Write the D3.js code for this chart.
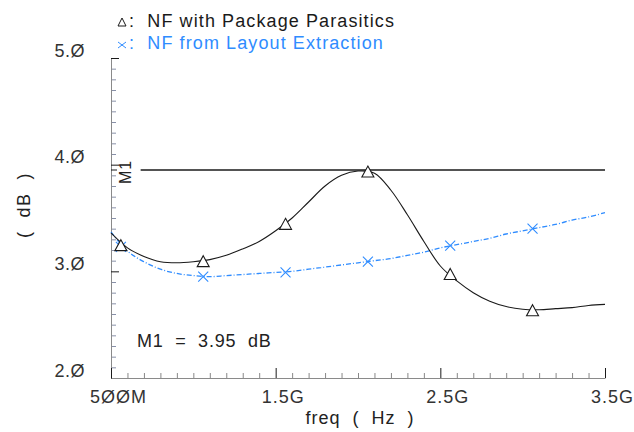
<!DOCTYPE html>
<html>
<head>
<meta charset="utf-8">
<script src="https://cdn.jsdelivr.net/npm/d3@7"></script>
<style>
  body { margin: 0; background: #fff; }
  svg { font-family: "Liberation Sans", Arial, sans-serif; }
</style>
</head>
<body>
<svg id="chart"></svg>
<script>
// frecuencias en GHz y valores (dB)
const freqGHz = [0.5, 0.6, 0.7, 0.8, 0.9, 1.0, 1.1, 1.2, 1.3, 1.4, 1.5, 1.6, 1.7, 1.8, 1.9, 2.0,
                 2.1, 2.2, 2.3, 2.4, 2.5, 2.6, 2.7, 2.8, 2.9, 3.0, 3.1, 3.2, 3.3, 3.4, 3.5];
const nfPackage = [3.36, 3.22, 3.14, 3.09, 3.08, 3.09, 3.11, 3.15, 3.21, 3.28, 3.38, 3.50, 3.65, 3.80, 3.90, 3.94,
                   3.92, 3.76, 3.53, 3.28, 3.05, 2.91, 2.80, 2.72, 2.67, 2.645, 2.64, 2.65, 2.66, 2.68, 2.69];
const nfLayout = [3.37, 3.19, 3.09, 3.02, 2.98, 2.96, 2.95, 2.96, 2.97, 2.98, 2.99, 3.00, 3.02, 3.04, 3.06, 3.08,
                  3.10, 3.12, 3.15, 3.18, 3.22, 3.25, 3.28, 3.31, 3.35, 3.38, 3.41, 3.44, 3.48, 3.51, 3.55];

// marcadores
const markerFreq = [0.56, 1.06, 1.56, 2.06, 2.56, 3.06];
const nfPackageMarks = [3.25, 3.10, 3.45, 3.94, 2.98, 2.64];
const nfLayoutMarks = [3.23, 2.95, 2.99, 3.09, 3.24, 3.40];

const xTicks = [0.5, 1.5, 2.5, 3.5];
const xTickLabels = ["5ØØM", "1.5G", "2.5G", "3.5G"];
const yTicks = [2, 3, 4, 5];
const m1Value = 3.95;
const legendLabels = ["NF with Package Parasitics", "NF from Layout Extraction"];

const width = 634;
const height = 432;
const margin = { left: 111, right: 29, top: 58, bottom: 54 };

const black = "#1a1a1a";
const blue = "#2f8cff";
const axisGray = "#8a8a8a";

const svg = d3.select("#chart")
              .attr("width", width)
              .attr("height", height);

const x = d3.scaleLinear()
            .domain([0.5, 3.5])
            .range([margin.left, width - margin.right]);

const y = d3.scaleLinear()
            .domain([2, 5])
            .range([height - margin.bottom, margin.top]);

// ticks menores (cada 0.1)
const minorY = d3.range(21, 50).map(d => d / 10).filter(d => !yTicks.includes(d));
const minorX = d3.range(6, 35).map(d => d / 10).filter(d => !xTicks.includes(d));

// eje Y
svg.append("g")
   .attr("transform", `translate(${margin.left},0)`)
   .call(d3.axisLeft(y).tickValues(minorY).tickSize(-5).tickFormat(""))
   .call(g => g.select(".domain").remove())
   .call(g => g.selectAll(".tick line").attr("stroke", "#8890a8"));

svg.append("g")
   .attr("transform", `translate(${margin.left},0)`)
   .call(d3.axisLeft(y).tickValues(yTicks).tickSizeInner(-8).tickSizeOuter(0)
           .tickFormat(d => d3.format(".1f")(d).replace(/0/g, "Ø")))
   .call(g => g.select(".domain").attr("stroke", axisGray))
   .call(g => g.selectAll(".tick line").attr("stroke", black))
   .call(g => g.selectAll(".tick text")
               .attr("x", -26)
               .attr("dy", "-0.1em")
               .attr("font-size", 18)
               .attr("letter-spacing", 0.5)
               .attr("fill", "#333"));

// eje X
svg.append("g")
   .attr("transform", `translate(0,${height - margin.bottom})`)
   .call(d3.axisBottom(x).tickValues(minorX).tickSize(-5).tickFormat(""))
   .call(g => g.select(".domain").remove())
   .call(g => g.selectAll(".tick line").attr("stroke", "#888"));

svg.append("g")
   .attr("transform", `translate(0,${height - margin.bottom})`)
   .call(d3.axisBottom(x).tickValues(xTicks).tickSizeInner(-10).tickSizeOuter(0)
           .tickFormat((d, i) => xTickLabels[i]))
   .call(g => g.select(".domain").attr("stroke", axisGray))
   .call(g => g.selectAll(".tick text")
               .attr("y", 12)
               .attr("dx", 7)
               .attr("font-size", 18)
               .attr("letter-spacing", 1)
               .attr("fill", "#333"))
   .call(g => g.selectAll(".tick line").attr("stroke", black));

// titulos de ejes
svg.append("text")
   .attr("x", x(2.0) + 2)
   .attr("y", 424)
   .attr("text-anchor", "middle")
   .attr("font-size", 18)
   .attr("letter-spacing", 1)
   .attr("fill", "#222")
   .attr("xml:space", "preserve")
   .text("freq  (  Hz  )");

svg.append("text")
   .attr("transform", "translate(30,205) rotate(-90)")
   .attr("text-anchor", "middle")
   .attr("font-size", 18)
   .attr("letter-spacing", 1.5)
   .attr("fill", "#222")
   .attr("xml:space", "preserve")
   .text("(  dB  )");

// linea del marcador M1
svg.append("line")
   .attr("x1", x(0.68))
   .attr("x2", x(3.5))
   .attr("y1", y(m1Value))
   .attr("y2", y(m1Value))
   .attr("stroke", black)
   .attr("stroke-width", 1.5);

svg.append("line")
   .attr("x1", margin.left)
   .attr("x2", margin.left + 6)
   .attr("y1", y(m1Value))
   .attr("y2", y(m1Value))
   .attr("stroke", black);

svg.append("text")
   .attr("transform", `translate(${x(0.62)},${y(m1Value) + 2}) rotate(-90)`)
   .attr("text-anchor", "middle")
   .attr("font-size", 16)
   .attr("letter-spacing", 1)
   .attr("fill", "#222")
   .text("M1");

svg.append("text")
   .attr("x", 137)
   .attr("y", 347)
   .attr("font-size", 18)
   .attr("letter-spacing", 0.8)
   .attr("fill", "#222")
   .attr("xml:space", "preserve")
   .text("M1  =  3.95  dB");

// curvas
const line = d3.line()
               .x((d, i) => x(freqGHz[i]))
               .y(d => y(d))
               .curve(d3.curveCatmullRom);

svg.append("path")
   .datum(nfLayout)
   .attr("d", line)
   .attr("fill", "none")
   .attr("stroke", blue)
   .attr("stroke-width", 1.3)
   .attr("stroke-dasharray", "5,2,1,2");

svg.append("path")
   .datum(nfPackage)
   .attr("d", line)
   .attr("fill", "none")
   .attr("stroke", black)
   .attr("stroke-width", 1.1);

// marcadores x azules
svg.selectAll(".xmark")
   .data(nfLayoutMarks)
   .enter()
   .append("path")
   .attr("class", "xmark")
   .attr("transform", (d, i) => `translate(${x(markerFreq[i])},${y(d)})`)
   .attr("d", "M-5,-5L5,5M-5,5L5,-5")
   .attr("stroke", blue)
   .attr("stroke-width", 1.1)
   .attr("fill", "none");

// marcadores triangulo
svg.selectAll(".tri")
   .data(nfPackageMarks)
   .enter()
   .append("path")
   .attr("class", "tri")
   .attr("transform", (d, i) => `translate(${x(markerFreq[i])},${y(d) + 1})`)
   .attr("d", "M0,-6L6,5L-6,5Z")
   .attr("stroke", black)
   .attr("stroke-width", 1.1)
   .attr("fill", "#fff");

// leyenda
const legend = svg.append("g");
legend.append("path")
      .attr("transform", "translate(122,22)")
      .attr("d", "M0,-4L4,4L-4,4Z")
      .attr("stroke", black)
      .attr("fill", "none");
legend.append("path")
      .attr("transform", "translate(122,45)")
      .attr("d", "M-4,-3L4,3M-4,3L4,-3")
      .attr("stroke", blue)
      .attr("fill", "none");

legend.selectAll("text")
      .data(legendLabels)
      .enter()
      .append("text")
      .attr("x", 129)
      .attr("y", (d, i) => 27 + i * 22)
      .attr("font-size", 18)
      .attr("letter-spacing", 1.1)
      .attr("fill", (d, i) => i === 0 ? black : blue)
      .attr("xml:space", "preserve")
      .text(d => ":  " + d);
</script>
</body>
</html>
